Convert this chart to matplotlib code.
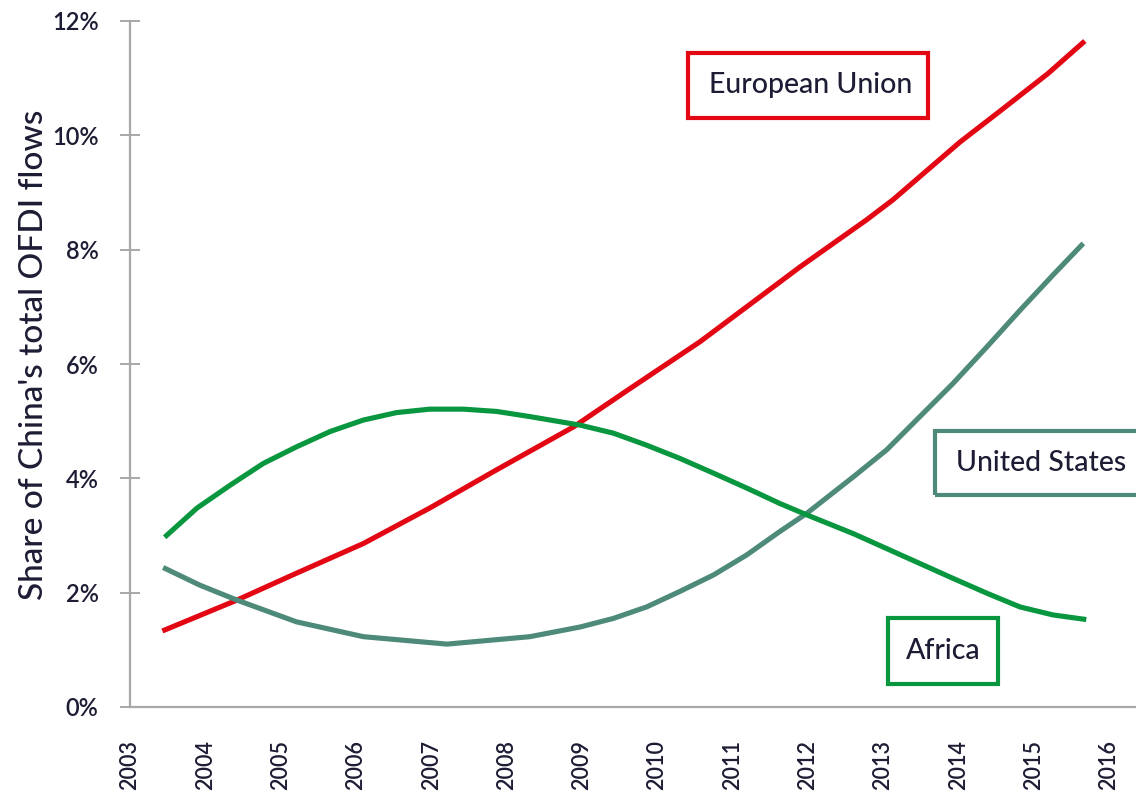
import matplotlib
matplotlib.use("Agg")
import matplotlib.pyplot as plt
from matplotlib.patches import Rectangle
from matplotlib.ticker import FuncFormatter, FixedLocator

plt.rcParams['font.family'] = ['Lato', 'DejaVu Sans']

# ---- data ----
years = list(range(2003, 2017))
series_names = ["European Union", "United States", "Africa"]

eu_x = [2003.43, 2004.42, 2005.21, 2006.10, 2006.98, 2007.87, 2008.89, 2009.64,
        2010.57, 2011.90, 2012.78, 2013.13, 2014.02, 2014.55, 2015.19, 2015.68]
eu_y = [1.33, 1.87, 2.34, 2.86, 3.48, 4.15, 4.90, 5.57,
        6.39, 7.70, 8.52, 8.87, 9.88, 10.42, 11.08, 11.65]

us_x = [2003.44, 2003.93, 2004.42, 2005.21, 2006.10, 2007.21, 2008.31, 2008.98,
        2009.42, 2009.86, 2010.30, 2010.75, 2011.19, 2011.63, 2011.99, 2012.61,
        2013.05, 2013.49, 2013.93, 2014.38, 2014.82, 2015.26, 2015.66]
us_y = [2.44, 2.13, 1.87, 1.49, 1.23, 1.10, 1.23, 1.40,
        1.55, 1.75, 2.02, 2.31, 2.66, 3.07, 3.39, 4.03,
        4.50, 5.08, 5.66, 6.30, 6.94, 7.56, 8.11]

af_x = [2003.46, 2003.89, 2004.33, 2004.77, 2005.21, 2005.66, 2006.10, 2006.54,
        2006.98, 2007.43, 2007.87, 2008.31, 2008.98, 2009.42, 2009.86, 2010.30,
        2010.75, 2011.19, 2011.63, 2011.99, 2012.61, 2013.05, 2013.49, 2013.93,
        2014.38, 2014.82, 2015.26, 2015.70]
af_y = [2.97, 3.48, 3.88, 4.26, 4.55, 4.82, 5.02, 5.15,
        5.21, 5.21, 5.17, 5.08, 4.93, 4.79, 4.58, 4.35,
        4.09, 3.83, 3.56, 3.36, 3.03, 2.77, 2.51, 2.25,
        1.99, 1.75, 1.61, 1.53]

y_ticks = [0, 2, 4, 6, 8, 10, 12]
y_label = "Share of China's total OFDI flows"

# ---- styling ----
RED = "#e30613"
TEAL = "#4e8a79"
GREEN = "#08963f"
TXT = "#1c1c34"
AXC = "#a8a8a8"

W, H = 1136, 798
fig = plt.figure(figsize=(W / 100, H / 100), dpi=100)
ax = fig.add_axes([130 / W, (H - 707) / H, (W - 130) / W, (707 - 21) / H])

for xs, ys, c in [(eu_x, eu_y, RED), (us_x, us_y, TEAL), (af_x, af_y, GREEN)]:
    ax.plot(xs, ys, color=c, lw=3.7, solid_capstyle='butt',
            solid_joinstyle='round', zorder=3)

ax.set_xlim(2003, 2003 + (W - 130) / 75.3)
ax.set_ylim(0, 12)

for s in ['top', 'right']:
    ax.spines[s].set_visible(False)
for s in ['left', 'bottom']:
    ax.spines[s].set_color(AXC)
    ax.spines[s].set_linewidth(1.6)

ax.yaxis.set_major_locator(FixedLocator(y_ticks))
ax.yaxis.set_major_formatter(FuncFormatter(lambda v, p: f"{int(v)}%"))
ax.tick_params(axis='y', which='major', direction='inout', length=15, width=1.4,
               color=AXC, labelsize=17, labelcolor=TXT, pad=15)
for lab in ax.get_yticklabels():
    lab.set_fontweight('semibold')

ax.set_xticks(years)
ax.set_xticklabels([str(y) for y in years], rotation=90, fontweight='semibold')
ax.tick_params(axis='x', which='major', length=0, labelsize=15.5,
               labelcolor=TXT, pad=24)
ax.set_xticks([2003], minor=True)
ax.tick_params(axis='x', which='minor', direction='out', length=9.5, width=1.4,
               color=AXC)

ax.set_ylabel(y_label, fontsize=24, color=TXT, fontweight='medium')
ax.yaxis.set_label_coords(-(130 - 49) / (W - 130), (707 - 355) / (707 - 21))


def label_box(x0, y0, x1, y1, text, color, tx):
    fx0, fx1 = x0 / W, x1 / W
    fy0, fy1 = (H - y1) / H, (H - y0) / H
    fig.add_artist(Rectangle((fx0, fy0), fx1 - fx0, fy1 - fy0,
                             transform=fig.transFigure, fill=False,
                             edgecolor=color, lw=3.0, clip_on=False))
    fig.text(tx / W, (fy0 + fy1) / 2, text, ha='center', va='center',
             fontsize=20.5, color=TXT, fontweight='medium')


label_box(688, 53, 928, 118, series_names[0], RED, 811)
label_box(935, 431, 1150, 495, series_names[1], TEAL, 1041)
label_box(888, 618, 998, 684, series_names[2], GREEN, 943)

fig.savefig("out.png", dpi=100, facecolor="white")
